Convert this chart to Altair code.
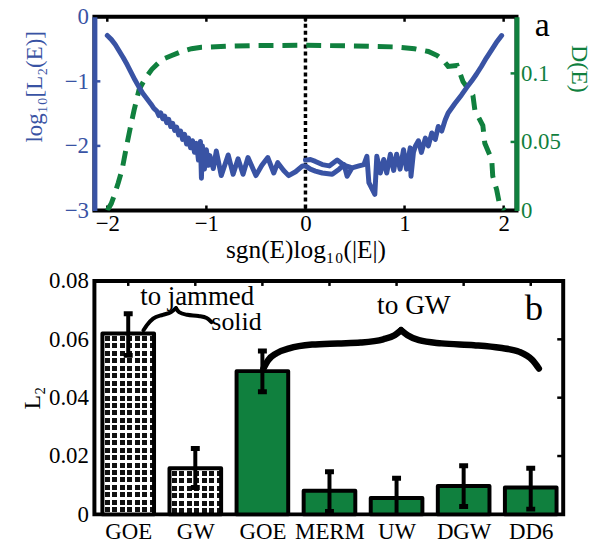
import json
import math
import altair as alt
import pandas as pd

# ---------------- panel a data ----------------
blue_v = [-2.00, -1.96, -1.92, -1.88, -1.84, -1.80, -1.76, -1.72, -1.68, -1.64, -1.60, -1.56, -1.53,
          -1.50, -1.48, -1.46, -1.44, -1.42, -1.40, -1.38, -1.36, -1.34, -1.32, -1.30, -1.28, -1.26,
          -1.24, -1.22, -1.20, -1.18, -1.16, -1.14, -1.12, -1.10, -1.08, -1.06, -1.05, -1.04, -1.02,
          -1.00, -0.98, -0.965, -0.93, -0.90, -0.85, -0.78, -0.73, -0.68, -0.63, -0.58, -0.50, -0.44,
          -0.38, -0.32, -0.28, -0.22, -0.17, -0.10, -0.03, 0.00, 0.05, 0.10, 0.17, 0.27, 0.34, 0.39,
          0.42, 0.47, 0.54, 0.59, 0.62, 0.64, 0.70, 0.72, 0.756, 0.79, 0.82, 0.857, 0.89, 0.92, 0.955,
          0.99, 1.02, 1.057, 1.065, 1.09, 1.11, 1.14, 1.17, 1.21, 1.24, 1.275, 1.31, 1.34, 1.375, 1.41,
          1.44, 1.51, 1.575, 1.625, 1.675, 1.725, 1.775, 1.825, 1.876, 1.926, 1.98]
blue_L = [-0.29, -0.35, -0.43, -0.53, -0.63, -0.74, -0.86, -0.98, -1.09, -1.19, -1.27, -1.35, -1.42,
          -1.46, -1.53, -1.49, -1.58, -1.54, -1.64, -1.59, -1.70, -1.65, -1.76, -1.71, -1.83, -1.77,
          -1.90, -1.82, -1.97, -1.88, -2.03, -1.92, -2.10, -1.96, -2.22, -1.93, -2.50, -2.00, -2.36,
          -2.06, -2.30, -2.15, -2.35, -2.08, -2.46, -2.14, -2.44, -2.20, -2.44, -2.18, -2.46, -2.30,
          -2.18, -2.42, -2.26, -2.38, -2.46, -2.40, -2.31, -2.31, -2.36, -2.39, -2.42, -2.44, -2.36, -2.29,
          -2.47, -2.34, -2.31, -2.29, -2.16, -2.57, -2.75, -2.16, -2.42, -2.21, -2.42, -2.13, -2.38, -2.13, -2.36,
          -2.06, -2.36, -2.03, -2.47, -2.10, -2.00, -1.92, -2.10, -1.88, -2.00, -1.80, -1.90, -1.70, -1.77, -1.60,
          -1.49, -1.34, -1.21, -1.10, -1.00, -0.89, -0.77, -0.64, -0.52, -0.40, -0.29]
branch_v = [0.00, 0.05, 0.10, 0.17, 0.24, 0.32, 0.39, 0.45]
branch_L = [-2.22, -2.21, -2.24, -2.29, -2.31, -2.22, -2.30, -2.33]

green_v = [-2.00, -1.96, -1.93, -1.89, -1.85, -1.80, -1.76, -1.73, -1.68, -1.62, -1.55, -1.45, -1.35,
           -1.25, -1.15, -1.05, -0.80, -0.50, 0.00, 0.50, 0.90, 1.10, 1.24, 1.33, 1.39, 1.44, 1.53,
           1.59, 1.69, 1.71, 1.79, 1.81, 1.88, 1.89, 1.93, 1.96, 2.01]
green_D = [0.000, 0.005, 0.011, 0.020, 0.030, 0.049, 0.063, 0.073, 0.088, 0.096, 0.103, 0.110, 0.113,
           0.116, 0.118, 0.119, 0.1198, 0.1203, 0.1205, 0.1200, 0.1193, 0.118, 0.116, 0.113, 0.1097,
           0.1051, 0.1058, 0.094, 0.084, 0.073, 0.062, 0.049, 0.037, 0.025, 0.015, 0.004, 0.000]

x_ticks_a = [-2, -1, 0, 1, 2]
yl_ticks_a = [-3, -2, -1, 0]
yr_ticks_a = [0, 0.05, 0.1]

# ---------------- panel b data ----------------
bar_labels = ["GOE", "GW", "GOE", "MERM", "UW", "DGW", "DD6"]
bar_values = [0.0620, 0.0158, 0.0491, 0.0081, 0.0056, 0.0097, 0.0092]
err_hi = [0.0688, 0.0226, 0.0560, 0.0146, 0.0124, 0.0167, 0.0158]
err_lo = [0.0545, 0.0092, 0.0420, 0.0010, -0.0012, 0.0027, 0.0018]
hatched = [True, True, False, False, False, False, False]
y_ticks_b = [0, 0.02, 0.04, 0.06, 0.08]

# brace annotations (bar-index units, L2 units)
brace_x = [2.015, 2.087, 2.208, 2.400, 2.740, 3.125, 3.464, 3.802, 3.971, 4.067,
           4.067, 4.164, 4.334, 4.671, 5.154, 5.541, 5.831, 6.024, 6.121,
           0.227, 0.276, 0.371, 0.516, 0.638, 0.711,
           0.711, 0.758, 0.879, 1.048, 1.169, 1.241]
brace_y = [0.0500, 0.0529, 0.0552, 0.0569, 0.0582, 0.0586, 0.0589, 0.0600, 0.0614, 0.0631,
           0.0631, 0.0614, 0.0597, 0.0586, 0.0580, 0.0571, 0.0557, 0.0529, 0.0500,
           0.0631, 0.0648, 0.0671, 0.0684, 0.0693, 0.0707,
           0.0707, 0.0693, 0.0684, 0.0680, 0.0673, 0.0659]
brace_part = ["gw_l"] * 10 + ["gw_r"] * 9 + ["js_l"] * 6 + ["js_r"] * 6

ann_text = ["to jammed", "solid", "to GW", "b"]
ann_x = [1.027, 1.613, 4.258, 6.048]
ann_y = [0.0716, 0.0631, 0.0688, 0.0665]
ann_size = [27, 26, 27.5, 37]

# ---------------- style ----------------
BLUE = "#3953a4"
GREEN = "#10803e"
FONT = "Liberation Serif, Tinos, 'Times New Roman', Times, 'Nimbus Roman', 'DejaVu Serif', serif"
W_A, H_A = 425, 195
W_B, H_B = 472, 235
BAR_PX = 52
TICK = 5

df_blue = pd.DataFrame({"v": blue_v + branch_v, "L": blue_L + branch_L,
                        "s": ["main"] * len(blue_v) + ["branch"] * len(branch_v),
                        "k": list(range(len(blue_v))) + list(range(len(branch_v)))})
df_green = pd.DataFrame({"v": green_v, "D": green_D, "k": list(range(len(green_v)))})

x_a = alt.X("v:Q", scale=alt.Scale(domain=[-2.13, 2.13], nice=False, zero=False),
            axis=alt.Axis(values=x_ticks_a, format="~g", title="sgn(E)log₁₀(|E|)", grid=False,
                          ticks=False, domain=False, labelFontSize=23, titleFontSize=25.5,
                          labelPadding=2, titlePadding=2, labelColor="black", titleColor="black",
                          titleFontWeight="normal", labelFont=FONT, titleFont=FONT))
yl_scale = alt.Scale(domain=[-3, 0], nice=False, zero=False)
yr_scale = alt.Scale(domain=[0, 0.1413], nice=False, zero=False)

blue_line = alt.Chart(df_blue).mark_line(color=BLUE, strokeWidth=5, strokeJoin="round",
                                         strokeCap="round", clip=True).encode(
    x=x_a,
    y=alt.Y("L:Q", scale=yl_scale,
            axis=alt.Axis(values=yl_ticks_a, format="~g", title=["", "log₁₀[L₂(E)]"],
                          titleLineHeight=16, titleY=70, grid=False, ticks=False,
                          domainColor=BLUE, domainWidth=5, labelColor=BLUE, titleColor=BLUE,
                          labelFontSize=23, titleFontSize=23, labelPadding=6, titlePadding=18,
                          titleFontWeight="normal", labelFont=FONT, titleFont=FONT)),
    detail="s:N",
    order="k:Q",
)

green_line = alt.Chart(df_green).mark_line(color=GREEN, strokeWidth=5, strokeDash=[15, 9],
                                           clip=True).encode(
    x=alt.X("v:Q"),
    y=alt.Y("D:Q", scale=yr_scale,
            axis=alt.Axis(orient="right", values=yr_ticks_a, format="~g", title="D(E)",
                          titleY=52, grid=False, ticks=False, domainColor=GREEN, domainWidth=5,
                          labelColor=GREEN, titleColor=GREEN, labelFontSize=23,
                          titleFontSize=24, labelPadding=4, titlePadding=6,
                          titleFontWeight="normal", labelFont=FONT, titleFont=FONT)),
    order="k:Q",
)

zero_rule = alt.Chart(pd.DataFrame({"v": [0]})).mark_rule(
    color="black", strokeWidth=3.5, strokeDash=[4, 3]).encode(x=alt.X("v:Q"))

df_xt = pd.DataFrame({"v": x_ticks_a})
xt_bottom = alt.Chart(df_xt).mark_rule(color="black", strokeWidth=2.5).encode(
    x=alt.X("v:Q"), y=alt.value(H_A), y2=alt.value(H_A - TICK))
xt_top = alt.Chart(df_xt).mark_rule(color="black", strokeWidth=2.5).encode(
    x=alt.X("v:Q"), y=alt.value(0), y2=alt.value(TICK))
yl_t = alt.Chart(pd.DataFrame({"L": yl_ticks_a[1:-1]})).mark_rule(
    color=BLUE, strokeWidth=2.5).encode(
    y=alt.Y("L:Q", scale=yl_scale, axis=None), x=alt.value(0), x2=alt.value(TICK + 1))
yr_t = alt.Chart(pd.DataFrame({"D": yr_ticks_a[1:]})).mark_rule(
    color=GREEN, strokeWidth=2.5).encode(
    y=alt.Y("D:Q", scale=yr_scale, axis=None), x=alt.value(W_A), x2=alt.value(W_A - TICK - 1))

label_a = alt.Chart(pd.DataFrame({"t": ["a"]})).mark_text(
    font=FONT, fontSize=34, align="center", baseline="alphabetic", x=W_A + 26, y=19,
    color="black").encode(text="t:N")

top = alt.layer(xt_bottom, xt_top, zero_rule, green_line, blue_line, yl_t, yr_t,
                label_a).resolve_scale(y="independent").properties(width=W_A, height=H_A)

# ---------------- panel b ----------------
idx = list(range(len(bar_labels)))
df_b = pd.DataFrame({"idx": idx, "val": bar_values, "hi": err_hi, "lo": err_lo,
                     "hatched": hatched})

label_expr = json.dumps(bar_labels) + "[datum.value]"
x_b = alt.X("idx:Q", scale=alt.Scale(domain=[-0.43, 6.41], nice=False, zero=False),
            axis=alt.Axis(values=idx, labelExpr=label_expr, title=None, grid=False, ticks=False,
                          domain=False, labelFontSize=23, labelPadding=6, labelColor="black",
                          labelFont=FONT))
y_scale_b = alt.Scale(domain=[0, 0.08], nice=False)
y_b = alt.Y("val:Q", scale=y_scale_b,
            axis=alt.Axis(values=y_ticks_b, format="~g", title="L₂", grid=False, ticks=False,
                          domain=False, labelFontSize=23, titleFontSize=24, labelPadding=6,
                          titlePadding=4, labelColor="black", titleColor="black",
                          titleFontWeight="normal", labelFont=FONT, titleFont=FONT))


def stripe_stops(n, frac, col_a, col_b):
    stops = []
    for k in range(int(math.ceil(n))):
        o0 = min(k / n, 1.0)
        o1 = min((k + frac) / n, 1.0)
        o2 = min((k + 1) / n, 1.0)
        stops += [{"offset": o0, "color": col_a}, {"offset": o1, "color": col_a},
                  {"offset": o1, "color": col_b}, {"offset": o2, "color": col_b}]
    return stops


PERIOD = 7.5
base_b = alt.Chart(df_b)
green_bars = base_b.transform_filter("!datum.hatched").mark_bar(
    size=BAR_PX, fill=GREEN, stroke="black", strokeWidth=4, strokeJoin="round").encode(x=x_b, y=y_b)

hatch_layers = []
for i, h in enumerate(hatched):
    if not h:
        continue
    h_px = bar_values[i] / 0.08 * H_B
    cols = {"gradient": "linear", "x1": 0, "y1": 0, "x2": 1, "y2": 0,
            "stops": stripe_stops(BAR_PX / PERIOD, 0.33, "#ffffff", "#111111")}
    rows = {"gradient": "linear", "x1": 0, "y1": 0, "x2": 0, "y2": 1,
            "stops": stripe_stops(h_px / PERIOD, 0.33, "#ffffff", "rgba(255,255,255,0)")}
    sel = base_b.transform_filter(f"datum.idx == {i}")
    hatch_layers.append(sel.mark_bar(size=BAR_PX, fill=cols, strokeWidth=0).encode(x=x_b, y=y_b))
    hatch_layers.append(sel.mark_bar(size=BAR_PX, fill=rows, strokeWidth=0).encode(x=x_b, y=y_b))

hatch_outline = base_b.transform_filter("datum.hatched").mark_bar(
    size=BAR_PX, fillOpacity=0, stroke="black", strokeWidth=4, strokeJoin="round").encode(x=x_b, y=y_b)

err_rule = base_b.mark_rule(color="black", strokeWidth=4, clip=True).encode(
    x=x_b, y=alt.Y("lo:Q", scale=y_scale_b), y2="hi:Q")
cap_hi = base_b.mark_tick(orient="horizontal", size=9, thickness=5, color="black",
                          opacity=1, clip=True).encode(x=x_b, y=alt.Y("hi:Q", scale=y_scale_b))
cap_lo = base_b.mark_tick(orient="horizontal", size=9, thickness=5, color="black",
                          opacity=1, clip=True).encode(x=x_b, y=alt.Y("lo:Q", scale=y_scale_b))

top_ticks_b = base_b.mark_rule(color="black", strokeWidth=2.5).encode(
    x=x_b, y=alt.value(0), y2=alt.value(TICK))
right_ticks_b = alt.Chart(pd.DataFrame({"val": y_ticks_b[1:-1]})).mark_rule(
    color="black", strokeWidth=2.5).encode(
    y=alt.Y("val:Q", scale=y_scale_b), x=alt.value(W_B), x2=alt.value(W_B - TICK - 1))

df_brace = pd.DataFrame({"bx": brace_x, "by": brace_y, "part": brace_part,
                         "k": list(range(len(brace_x)))})
braces = alt.Chart(df_brace).mark_line(color="black", strokeCap="round", strokeJoin="round",
                                       interpolate="monotone").encode(
    x=alt.X("bx:Q"), y=alt.Y("by:Q", scale=y_scale_b), detail="part:N", order="k:Q",
    strokeWidth=alt.condition("indexof(datum.part, 'gw') >= 0", alt.value(6.5), alt.value(4)))

df_ann = pd.DataFrame({"tx": ann_x, "ty": ann_y, "t": ann_text, "sz": ann_size})
ann = alt.Chart(df_ann).mark_text(font=FONT, align="center", baseline="alphabetic",
                                  color="black").encode(
    x=alt.X("tx:Q"), y=alt.Y("ty:Q", scale=y_scale_b), text="t:N",
    size=alt.Size("sz:Q", scale=None, legend=None))

bottom = alt.layer(green_bars, *hatch_layers, hatch_outline, err_rule, cap_hi, cap_lo,
                   top_ticks_b, right_ticks_b, braces, ann).properties(width=W_B, height=H_B)

chart = alt.concat(top, bottom, columns=1, spacing=3, align="none").properties(
    padding={"top": -6, "left": -3, "right": 0, "bottom": 0}
).configure(font=FONT).configure_axis(labelFont=FONT, titleFont=FONT).configure_text(
    font=FONT).configure_view(stroke="black", strokeWidth=4)

chart.save("out.html", embed_options={"renderer": "svg", "actions": False})
